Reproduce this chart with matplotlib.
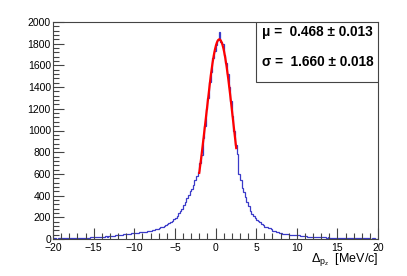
import numpy as np
import matplotlib
matplotlib.use("Agg")
import matplotlib.pyplot as plt
from matplotlib.patches import Rectangle
from matplotlib.ticker import MultipleLocator

# ---- data ----
bin_lo, bin_hi, n_bins = -20.0, 20.0, 200
counts_far_left = [5, 6, 4, 7, 5, 6, 7, 5, 8, 6,
                   7, 8, 9, 7, 9, 10, 8, 11, 10, 12,
                   11, 13, 12, 14, 15, 14, 16, 17, 19, 18,
                   21, 22, 24, 23, 26, 28, 30, 29, 33, 35,
                   36, 39, 41, 44, 43, 48, 50, 49, 53, 55]
counts_near_left = [54, 57, 56, 60, 62, 61, 66, 68, 71, 74,
                    78, 82, 86, 90, 96, 101, 110, 114, 122, 128,
                    138, 145, 160, 170, 185, 195, 215, 240, 255, 280,
                    315, 345, 380, 410, 440, 465, 500, 540, 580, 620,
                    700, 770, 930, 1040, 1200, 1300, 1450, 1540, 1670, 1730]
counts_near_right = [1790, 1830, 1910, 1820, 1800, 1700, 1620, 1520, 1400, 1270,
                     1130, 1000, 870, 780, 600, 540, 470, 430, 390, 345,
                     300, 255, 235, 215, 195, 178, 170, 158, 140, 125,
                     115, 112, 104, 98, 88, 76, 70, 66, 60, 56,
                     53, 50, 46, 44, 43, 40, 38, 37, 40, 41]
counts_far_right = [36, 33, 30, 28, 26, 25, 23, 22, 21, 20,
                    19, 18, 19, 17, 16, 15, 15, 14, 13, 14,
                    12, 12, 11, 11, 10, 10, 9, 10, 9, 8,
                    8, 9, 7, 8, 7, 7, 6, 7, 6, 6,
                    5, 6, 5, 6, 5, 4, 5, 5, 4, 4]
counts = counts_far_left + counts_near_left + counts_near_right + counts_far_right

fit_mu, fit_mu_err = 0.468, 0.013
fit_sigma, fit_sigma_err = 1.660, 0.018
fit_amp = 1840
fit_range = (-2.0, 2.55)

xlabel = r"$\Delta_{p_{z}}$  [MeV/c]"

# ---- figure ----
plt.rcParams['font.family'] = ['Liberation Sans', 'DejaVu Sans']
plt.rcParams['mathtext.fontset'] = 'custom'
plt.rcParams['mathtext.rm'] = 'Liberation Sans'
plt.rcParams['mathtext.it'] = 'Liberation Sans'
plt.rcParams['mathtext.bf'] = 'Liberation Sans:bold'

fig = plt.figure(figsize=(4.07, 2.76), dpi=100)
ax = fig.add_axes([53/407, 1-239/276, 325/407, 217/276])

edges = np.linspace(bin_lo, bin_hi, n_bins + 1)
ax.stairs(counts, edges, color='#3a3ac8', lw=0.9)

xf = np.linspace(fit_range[0], fit_range[1], 200)
yf = fit_amp * np.exp(-0.5 * ((xf - fit_mu) / fit_sigma) ** 2)
ax.plot(xf, yf, color='#ff0000', lw=1.6)

ax.set_xlim(-20, 20)
ax.set_ylim(0, 2000)
ax.xaxis.set_major_locator(MultipleLocator(5))
ax.xaxis.set_minor_locator(MultipleLocator(1))
ax.yaxis.set_major_locator(MultipleLocator(200))
ax.yaxis.set_minor_locator(MultipleLocator(40))
ax.tick_params(which='both', direction='in', top=False, right=False,
               color='#444444', width=0.8, labelsize=7.5)
ax.tick_params(which='major', length=8)
ax.tick_params(which='minor', length=4)
ax.tick_params(axis='x', pad=3)
ax.tick_params(axis='y', pad=1.5)
for s in ax.spines.values():
    s.set_color('#444444')
    s.set_linewidth(0.8)

# stats box
ax.add_patch(Rectangle((0.625, 0.7235), 0.375, 0.2765, transform=ax.transAxes,
                       facecolor='white', edgecolor='#444444', lw=0.8, zorder=5))
ax.text(0.643, 0.953, f"μ =  {fit_mu:.3f} ± {fit_mu_err:.3f}", transform=ax.transAxes,
        fontsize=9.8, fontweight='bold', va='center', ha='left', zorder=6)
ax.text(0.643, 0.815, f"σ =  {fit_sigma:.3f} ± {fit_sigma_err:.3f}", transform=ax.transAxes,
        fontsize=9.8, fontweight='bold', va='center', ha='left', zorder=6)

fig.text(378/407, 1-259/276, xlabel, ha='right', va='center', fontsize=9)

fig.savefig("out.png", dpi=100)
